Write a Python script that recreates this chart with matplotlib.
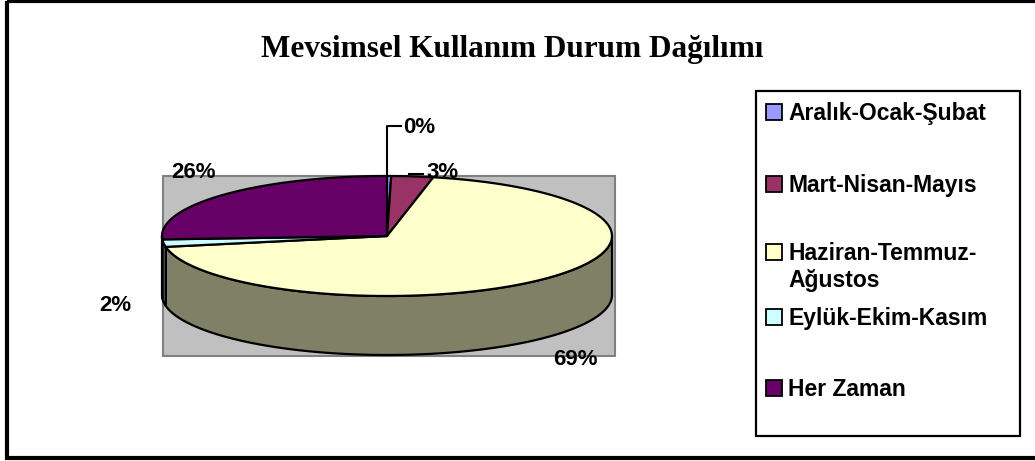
import numpy as np
import matplotlib.pyplot as plt
from matplotlib.patches import Polygon, Rectangle

title = "Mevsimsel Kullanım Durum Dağılımı"
categories = ["Aralık-Ocak-Şubat", "Mart-Nisan-Mayıs", "Haziran-Temmuz-\nAğustos",
              "Eylük-Ekim-Kasım", "Her Zaman"]
values = [0.3, 3.0, 68.8, 2.0, 25.9]
pct_labels = ["0%", "3%", "69%", "2%", "26%"]
top_colors = ["#9999FF", "#993366", "#FFFFCC", "#CCFFFF", "#660066"]
side_colors = ["#4D4D80", "#4D1A33", "#808066", "#668080", "#330033"]

W, H = 1035, 461
fig = plt.figure(figsize=[W / 100, H / 100], dpi=100)
ax = fig.add_axes([0, 0, 1, 1])
ax.set_xlim(0, W)
ax.set_ylim(H, 0)
ax.axis("off")

# pie geometry in pixels
cx, cy, rx, ry, depth = 387, 236, 225, 60, 59


def ellipse_pts(a0, a1, dy=0, n=120):
    # angles in degrees, clockwise from 12 o'clock
    t = np.radians(np.linspace(a0, a1, n))
    return np.column_stack([cx + rx * np.sin(t), cy - ry * np.cos(t) + dy])


# outer frame
ax.add_patch(Rectangle((7, 1.5), 1040, 456, fill=False, edgecolor="black", lw=3))

# plot area
ax.add_patch(Rectangle((163, 176), 452, 180, facecolor="#C0C0C0", edgecolor="#808080", lw=1.5))

ax.text(512, 50, title, ha="center", va="center", fontsize=22.5, fontweight="bold",
        family="Liberation Serif")

fracs = np.array(values) / sum(values)
edges = np.concatenate([[0], np.cumsum(fracs) * 360])

# side walls (front half: 90..270 deg)
for i in range(len(values)):
    a0, a1 = max(edges[i], 90), min(edges[i + 1], 270)
    if a1 <= a0:
        continue
    top = ellipse_pts(a0, a1)
    bottom = ellipse_pts(a0, a1, dy=depth)[::-1]
    ax.add_patch(Polygon(np.vstack([top, bottom]), closed=True, facecolor=side_colors[i],
                         edgecolor="black", lw=1.6, joinstyle="round"))

# top faces
for i in range(len(values)):
    arc = ellipse_pts(edges[i], edges[i + 1])
    ax.add_patch(Polygon(np.vstack([[cx, cy], arc]), closed=True, facecolor=top_colors[i],
                         edgecolor="black", lw=1.6, joinstyle="round"))

# percentage labels
label_pos = [(403, 127), (426, 172), (553, 359), (131, 305), (216, 172)]
label_ha = ["left", "left", "left", "right", "right"]
for txt, (x, y), ha in zip(pct_labels, label_pos, label_ha):
    ax.text(x, y, txt, ha=ha, va="center", fontsize=16, fontweight="bold",
            family="Liberation Sans")

# leader lines for small slices
ax.plot([cx, cx, 401], [cy - ry, 126, 126], color="black", lw=1.5)
ax.plot([409, 423], [174, 174], color="black", lw=1.5)

# legend
ax.add_patch(Rectangle((756, 91), 264, 345, fill=False, edgecolor="black", lw=1.6))
legend_y = [112, 184, 252, 317, 388]
for cat, col, y in zip(categories, top_colors, legend_y):
    ax.add_patch(Rectangle((766, y - 8), 16, 16, facecolor=col, edgecolor="black", lw=1.3))
    ax.text(788, y + 1, cat.split("\n")[0], ha="left", va="center", fontsize=16.5,
            fontweight="bold", family="Liberation Sans")
    if "\n" in cat:
        ax.text(788, y + 28, cat.split("\n")[1], ha="left", va="center", fontsize=16.5,
                fontweight="bold", family="Liberation Sans")

fig.savefig("out.png", dpi=100)
